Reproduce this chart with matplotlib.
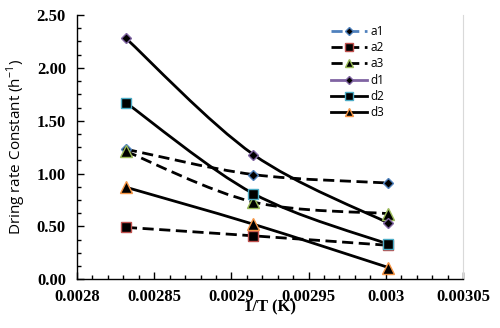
import numpy as np
import matplotlib
matplotlib.use("Agg")
import matplotlib.pyplot as plt
from matplotlib.path import Path
from matplotlib.patches import PathPatch
from matplotlib.lines import Line2D
from matplotlib.ticker import MultipleLocator, FixedLocator

# 1/T values (1/K) for 80, 70 and 60 degC
inv_T = [0.0028317, 0.0029142, 0.0030017]

series_names = ["a1", "a2", "a3", "d1", "d2", "d3"]
a1 = [1.23, 0.99, 0.91]
a2 = [0.49, 0.41, 0.32]
a3 = [1.21, 0.73, 0.62]
d1 = [2.28, 1.18, 0.53]
d2 = [1.67, 0.81, 0.33]
d3 = [0.87, 0.52, 0.11]

x_ticks = [0.0028, 0.00285, 0.0029, 0.00295, 0.003, 0.00305]
x_tick_labels = ["0.0028", "0.00285", "0.0029", "0.00295", "0.003", "0.00305"]
y_ticks = [0.0, 0.5, 1.0, 1.5, 2.0, 2.5]
y_tick_labels = ["0.00", "0.50", "1.00", "1.50", "2.00", "2.50"]

styles = {
    "a1": dict(ls=(0, (4, 2.0)), marker="D", ms=5.5, edge="#4F81BD", legend_line="#4F81BD"),
    "a2": dict(ls=(0, (4, 2.0)), marker="s", ms=7, edge="#C0504D", legend_line="black"),
    "a3": dict(ls=(0, (4, 2.0)), marker="^", ms=8, edge="#9BBB59", legend_line="black"),
    "d1": dict(ls="-", marker="D", ms=5.5, edge="#8064A2", legend_line="#8064A2"),
    "d2": dict(ls="-", marker="s", ms=7, edge="#4BACC6", legend_line="black"),
    "d3": dict(ls="-", marker="^", ms=8, edge="#F79646", legend_line="black"),
}
values = {"a1": a1, "a2": a2, "a3": a3, "d1": d1, "d2": d2, "d3": d3}


def smooth_path(x, y):
    """Catmull-Rom style cubic Bezier path through the points (spreadsheet smoothing)."""
    pts = np.column_stack([x, y])
    n = len(pts)
    verts = [pts[0]]
    codes = [Path.MOVETO]
    for i in range(n - 1):
        p0 = pts[max(i - 1, 0)]
        p1 = pts[i]
        p2 = pts[i + 1]
        p3 = pts[min(i + 2, n - 1)]
        c1 = p1 + (p2 - p0) / 6.0
        c2 = p2 - (p3 - p1) / 6.0
        verts += [c1, c2, p2]
        codes += [Path.CURVE4] * 3
    return Path(verts, codes)


fig = plt.figure(figsize=(5.0, 3.28), dpi=100)
ax = fig.add_axes([0.154, 0.149, 0.772, 0.805])

for name in series_names:
    st = styles[name]
    y = values[name]
    patch = PathPatch(smooth_path(inv_T, y), facecolor="none", edgecolor="black",
                      lw=2.0, linestyle=st["ls"], zorder=2)
    ax.add_patch(patch)
    ax.plot(inv_T, y, ls="none", marker=st["marker"], ms=st["ms"],
            mfc="black", mec=st["edge"], mew=1.0, zorder=3)

ax.set_xlim(0.0028, 0.00305)
ax.set_ylim(0.0, 2.5)

ax.xaxis.set_major_locator(FixedLocator(x_ticks))
ax.set_xticklabels(x_tick_labels)
ax.xaxis.set_minor_locator(MultipleLocator(0.00001))
ax.yaxis.set_major_locator(FixedLocator(y_ticks))
ax.set_yticklabels(y_tick_labels)
ax.yaxis.set_minor_locator(MultipleLocator(0.125))

ax.tick_params(which="both", direction="in", color="black", width=1.0,
               top=False, right=False)
ax.tick_params(which="major", length=5)
ax.tick_params(which="minor", length=3)
ax.tick_params(axis="x", pad=7)
ax.tick_params(axis="y", pad=8)

for lab in ax.get_xticklabels() + ax.get_yticklabels():
    lab.set_fontfamily("Liberation Serif")
    lab.set_fontweight("bold")
    lab.set_fontsize(12)

ax.spines["top"].set_visible(False)
ax.spines["right"].set_color("#D9D9D9")
ax.spines["right"].set_linewidth(0.8)
ax.spines["left"].set_linewidth(1.0)
ax.spines["bottom"].set_linewidth(1.0)

ax.set_xlabel("1/T (K)", fontfamily="Liberation Serif", fontweight="bold",
              fontsize=12, labelpad=-4)
ax.set_ylabel("Dring rate Constant (h$^{\\mathregular{-1}}$)", fontfamily="Open Sans",
              fontsize=11, labelpad=6)

handles = []
for name in series_names:
    st = styles[name]
    handles.append(Line2D([0], [0], color=st["legend_line"], lw=2.0, ls=st["ls"],
                          marker=st["marker"], ms=st["ms"] * 0.8, mfc="black",
                          mec=st["edge"], mew=1.0))
leg = ax.legend(handles, series_names, loc="upper left", bbox_to_anchor=(0.64, 0.99),
                frameon=False, handlelength=3.0, handletextpad=0.3,
                labelspacing=0.28, borderaxespad=0.2,
                prop={"family": "Open Sans", "size": 8.5})

fig.savefig("out.png", dpi=100)
